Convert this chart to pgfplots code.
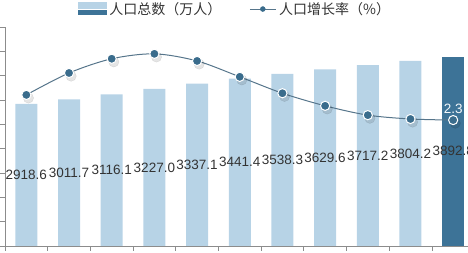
\documentclass[border=0pt]{standalone}
\usepackage{pgfplots}
\pgfplotsset{compat=1.18}
\usepackage{pgfplotstable}
\usepackage{fontspec}
\setmainfont{Liberation Sans}
\newfontfamily\cjk{Noto Sans CJK SC}
\definecolor{lightbar}{HTML}{B7D3E6}
\definecolor{darkbar}{HTML}{3D7397}
\definecolor{linecol}{HTML}{56758B}
\definecolor{markcol}{HTML}{3A6C8C}
\definecolor{axcol}{HTML}{8C8C8C}
\definecolor{lblcol}{HTML}{333333}

\pgfplotstableread{
x v lbl
0 2918.6 2918.6
1 3011.7 3011.7
2 3116.1 3116.1
3 3227.0 3227.0
4 3337.1 3337.1
5 3441.4 3441.4
6 3538.3 3538.3
7 3629.6 3629.6
8 3717.2 3717.2
9 3804.2 3804.2
10 3892.8 3892.8
}\pop

\pgfplotstableread{
x r
0 2.76
1 3.16
2 3.42
3 3.51
4 3.38
5 3.09
6 2.79
7 2.56
8 2.39
9 2.32
10 2.30
}\rate

\begin{document}
\begin{tikzpicture}
\begin{axis}[
  at={(5pt,7pt)}, anchor=south west,
  scale only axis, width=469.5pt, height=219pt,
  xmin=-0.5, xmax=10.5, ymin=0, ymax=4500,
  axis x line*=bottom, axis y line*=left,
  axis line style={axcol},
  every tick/.style={axcol, line width=0.6pt},
  tick align=outside,
  major tick length=5pt,
  xtick={-0.5,0.5,...,10.5}, xticklabels={},
  ytick={0,500,...,4500}, yticklabels={},
  clip=false,
  legend style={at={(0.4900,1.082)}, anchor=center, draw=none, fill=none,
    font=\cjk\fontsize{14}{16}\selectfont, text=lblcol,
    legend columns=2,
    /tikz/every odd column/.append style={column sep=1pt},
    /tikz/every even column/.append style={column sep=26pt}},
]
\addplot[ybar, bar width=22pt, bar shift=0pt, fill=lightbar, draw=none, forget plot]
  table[x=x, y=v, restrict x to domain=0:9] {\pop};
\addplot[ybar, bar width=22pt, bar shift=0pt, fill=darkbar, draw=none, forget plot]
  table[x=x, y=v, restrict x to domain=10:10] {\pop};
\addplot[draw=none, mark=none, forget plot,
  nodes near coords, point meta=explicit symbolic,
  nodes near coords style={anchor=center, font=\fontsize{13.5}{15}\selectfont, text=lblcol, inner sep=0pt}]
  table[x=x, y expr=\thisrow{v}/2, meta=lbl] {\pop};
\addlegendimage{legend image code/.code={
  \fill[lightbar] (0pt,0.8pt) rectangle (28pt,6.5pt);
  \fill[darkbar] (0pt,-5.5pt) rectangle (28pt,-0.8pt);}}
\addlegendentry{人口总数（万人）}
\addlegendimage{legend image code/.code={
  \draw[linecol, line width=0.8pt] (0pt,0pt) -- (26pt,0pt);
  \fill[markcol] (13pt,0pt) circle (2.5pt);}}
\addlegendentry{人口增长率（\%）}
\end{axis}
\begin{axis}[
  at={(5pt,7pt)}, anchor=south west,
  scale only axis, width=469.5pt, height=219pt,
  xmin=-0.5, xmax=10.5, ymin=0, ymax=4,
  hide axis, clip=false,
]
\addplot[linecol, line width=1pt, smooth, mark=none]
  table[x=x, y=r] {\rate};
\addplot[only marks, mark=*,
  mark options={fill=black, draw=none, opacity=0.10, scale=2.6, xshift=0.8pt, yshift=-1.2pt}]
  table[x=x, y=r] {\rate};
\addplot[only marks, mark=*,
  mark options={fill=markcol, draw=white, line width=1pt, scale=2.3}]
  table[x=x, y=r] {\rate};
\addplot[draw=none, mark=none,
  nodes near coords={2.3},
  nodes near coords style={anchor=south, font=\fontsize{13.5}{15}\selectfont, text=white!85!lightbar, yshift=3pt}]
  coordinates {(10,2.30)};
\end{axis}
\pgfresetboundingbox
\path[use as bounding box] (0,0) rectangle (468pt,253pt);
\end{tikzpicture}
\end{document}
